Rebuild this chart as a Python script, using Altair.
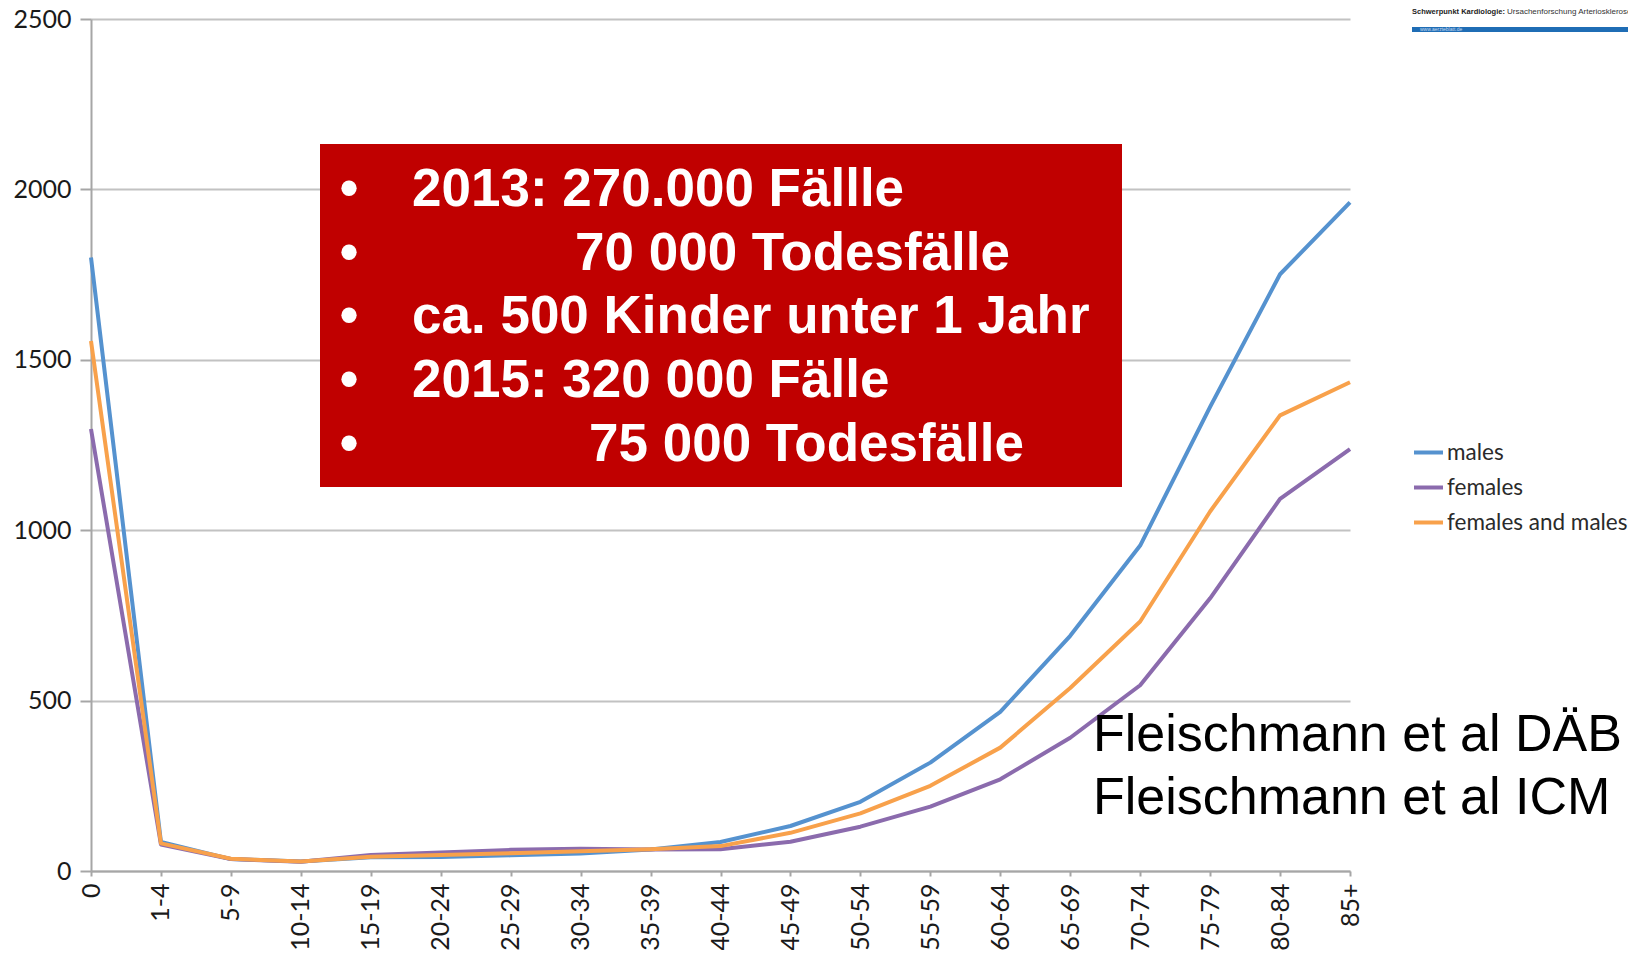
import altair as alt
import pandas as pd

# ---- data ----
ages = ["0", "1-4", "5-9", "10-14", "15-19", "20-24", "25-29", "30-34", "35-39",
        "40-44", "45-49", "50-54", "55-59", "60-64", "65-69", "70-74", "75-79",
        "80-84", "85+"]
males = [1800, 85, 35, 28, 40, 41, 46, 51, 63, 85, 132, 203, 318, 467, 690, 955, 1362, 1751, 1962]
females = [1297, 78, 35, 27, 47, 54, 62, 65, 63, 64, 86, 130, 189, 269, 391, 545, 800, 1092, 1238]
both = [1555, 81, 36, 28, 42, 47, 52, 58, 64, 73, 112, 169, 250, 362, 537, 732, 1055, 1337, 1434]

series_names = ["males", "females", "females and males"]
series_colors = ["#5592CF", "#8B6BAD", "#F8A14B"]
y_ticks = [0, 500, 1000, 1500, 2000, 2500]

box_lines = ["2013: 270.000 Fällle", "70 000 Todesfälle", "ca. 500 Kinder unter 1 Jahr",
             "2015: 320 000 Fälle", "75 000 Todesfälle"]
source_lines = ["Fleischmann et al DÄB", "Fleischmann et al ICM"]
header_bold = "Schwerpunkt Kardiologie:"
header_regular = "Ursachenforschung Arteriosklerose"
header_url = "www.aerzteblatt.de"

rows = []
for name, vals in zip(series_names, [males, females, both]):
    for a, v in zip(ages, vals):
        rows.append({"age": a, "series": name, "value": v})
df = pd.DataFrame(rows)

# ---- layout (pixels, plot-area coordinates) ----
W, H = 1259, 852
box_indent = [321, 484, 321, 321, 498]
box_first_baseline = 187
box_line_step = 63.7

FONT = "Lato"

color = alt.Color(
    "series:N",
    scale=alt.Scale(domain=series_names, range=series_colors),
    legend=alt.Legend(
        title=None, orient="none", legendX=1321, legendY=417,
        symbolType="stroke", symbolSize=841, symbolStrokeWidth=4,
        labelFont=FONT, labelFontSize=22.5, labelColor="#2a2a2a", labelLimit=0,
        labelOffset=2, rowPadding=7, padding=0,
    ),
)
x = alt.X(
    "age:O", sort=ages,
    scale=alt.Scale(type="point", padding=0),
    axis=alt.Axis(title=None, labelAngle=270, grid=False, tickSize=5,
                  labelPadding=7, labelFont=FONT, labelFontSize=25,
                  labelColor="#1a1a1a", domainColor="#a6a6a6", domainWidth=2,
                  tickColor="#a6a6a6", tickWidth=2),
)
y = alt.Y(
    "value:Q",
    scale=alt.Scale(domain=[0, 2500], nice=False, zero=True),
    axis=alt.Axis(title=None, values=y_ticks, format="d", grid=True,
                  gridColor="#c2c2c2", gridWidth=2, tickSize=11, labelPadding=9,
                  labelFont=FONT, labelFontSize=25, labelColor="#1a1a1a",
                  domainColor="#a6a6a6", domainWidth=2, tickColor="#a6a6a6",
                  tickWidth=2),
)

line_layers = [
    alt.Chart(df).transform_filter(alt.datum.series == n)
    .mark_line(strokeWidth=4, strokeJoin="round")
    .encode(x=x, y=y, color=color)
    for n in series_names
]


def one(txt):
    return pd.DataFrame({"t": [txt]})


def text_layer(txt, px, py, **kw):
    return alt.Chart(one(txt)).mark_text(**kw).encode(
        text="t:N", x=alt.value(px), y=alt.value(py))


red_box = alt.Chart(one("box")).mark_rect(color="#C00000").encode(
    x=alt.value(229), x2=alt.value(1031), y=alt.value(125), y2=alt.value(468))

box_text = []
for i, ln in enumerate(box_lines):
    by = box_first_baseline + i * box_line_step
    box_text.append(text_layer("•", 258, by, font="Liberation Sans", fontSize=53,
                               fontWeight="bold", color="white", align="center",
                               baseline="alphabetic"))
    box_text.append(text_layer(ln, box_indent[i], by, font="Liberation Sans",
                               fontSize=53, fontWeight="bold", color="white",
                               align="left", baseline="alphabetic"))

source_text = [
    text_layer(s, 1002, 732 + i * 63, font="Liberation Sans", fontSize=52,
               color="black", align="left", baseline="alphabetic")
    for i, s in enumerate(source_lines)
]

header_bar = alt.Chart(one("bar")).mark_rect(color="#1f6db5").encode(
    x=alt.value(1321), x2=alt.value(1560), y=alt.value(8), y2=alt.value(13))
header = [
    header_bar,
    text_layer(header_bold, 1321, -5, font="Liberation Sans", fontSize=7.5,
               fontWeight="bold", color="#222222", align="left", baseline="alphabetic"),
    text_layer(header_regular, 1416, -5, font="Liberation Sans", fontSize=8,
               color="#333333", align="left", baseline="alphabetic"),
    text_layer(header_url, 1329, 12, font="Liberation Sans", fontSize=5,
               color="#c8dcf0", align="left", baseline="alphabetic"),
]

chart = alt.layer(*line_layers, red_box, *box_text, *source_text, *header).properties(
    width=W, height=H,
    padding={"left": 83, "top": 11, "right": 278, "bottom": 79},
    autosize=alt.AutoSizeParams(type="none"),
    background="white",
).configure_view(strokeWidth=0)

chart.save("out.html", embed_options={"renderer": "svg", "actions": False})
